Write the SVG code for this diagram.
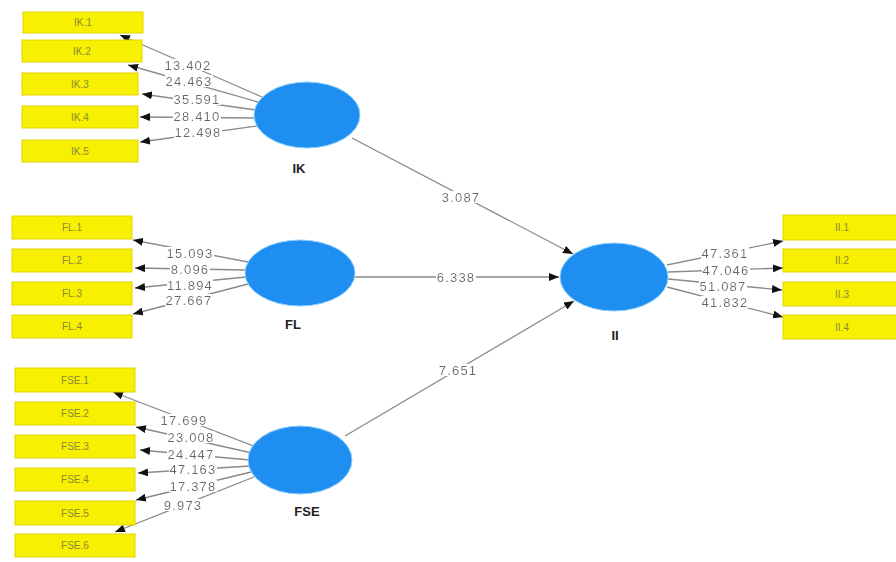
<svg xmlns="http://www.w3.org/2000/svg" width="896" height="562" viewBox="0 0 896 562">
  <style>
    .ind rect { fill: #f7f000; stroke: #e2d400; stroke-width: 1; }
    .ind text { font-family: "Liberation Sans", Arial, sans-serif; font-size: 10px; fill: #8a8a3a; text-anchor: middle; dominant-baseline: central; }
    .lv ellipse { fill: #1e8ff0; stroke: #8fd0ff; stroke-width: 1; }
    .lv text { font-family: "Liberation Sans", Arial, sans-serif; font-size: 13px; font-weight: bold; fill: #222; text-anchor: middle; dominant-baseline: central; }
    .edges line { stroke: #8a8a8a; stroke-width: 1.3; marker-end: url(#arrow); }
    .edges text { font-family: "Liberation Sans", Arial, sans-serif; font-size: 13px; fill: #666666; letter-spacing: 1.2px; text-anchor: middle; dominant-baseline: central; filter: url(#labelbg); }
  </style>
  <defs>
    <marker id="arrow" markerUnits="userSpaceOnUse" markerWidth="10" markerHeight="8" refX="10" refY="4" orient="auto">
      <path d="M0,0 L10,4 L0,8 z" fill="#111"/>
    </marker>
    <!-- white box behind the path coefficient labels -->
    <filter id="labelbg" x="0" y="0.1" width="1" height="0.8">
      <feFlood flood-color="#ffffff"/>
      <feComposite in="SourceGraphic" operator="over"/>
    </filter>
  </defs>
  <rect width="896" height="562" fill="#ffffff"/>

  <!-- connectors (drawn under the boxes) -->
  <g id="connectors" class="edges">
    <!-- IK indicators -->
    <line x1="262" y1="97" x2="120" y2="35"/>
    <line x1="258" y1="102" x2="128" y2="65"/>
    <line x1="256" y1="110" x2="142" y2="94"/>
    <line x1="255" y1="118" x2="140" y2="117"/>
    <line x1="257" y1="126" x2="140" y2="142"/>
    <text x="188" y="65">13.402</text>
    <text x="189" y="81">24.463</text>
    <text x="197" y="99">35.591</text>
    <text x="197" y="116">28.410</text>
    <text x="198" y="132">12.498</text>

    <!-- FL indicators -->
    <line x1="248" y1="262" x2="133" y2="240"/>
    <line x1="246" y1="270" x2="135" y2="268"/>
    <line x1="246" y1="277" x2="135" y2="288"/>
    <line x1="248" y1="284" x2="133" y2="314"/>
    <text x="190" y="253">15.093</text>
    <text x="190" y="269">8.096</text>
    <text x="190" y="285">11.894</text>
    <text x="189" y="300">27.667</text>

    <!-- FSE indicators -->
    <line x1="256" y1="447" x2="113" y2="392"/>
    <line x1="252" y1="453" x2="136" y2="427"/>
    <line x1="250" y1="460" x2="140" y2="450"/>
    <line x1="250" y1="466" x2="138" y2="473"/>
    <line x1="251" y1="472" x2="136" y2="500"/>
    <line x1="254" y1="477" x2="115" y2="532"/>
    <text x="184" y="420">17.699</text>
    <text x="191" y="437">23.008</text>
    <text x="191" y="454">24.447</text>
    <text x="193" y="469">47.163</text>
    <text x="193" y="486">17.378</text>
    <text x="183" y="505">9.973</text>

    <!-- II indicators -->
    <line x1="667" y1="265" x2="783" y2="241"/>
    <line x1="668" y1="272" x2="783" y2="268"/>
    <line x1="668" y1="279" x2="782" y2="290"/>
    <line x1="667" y1="287" x2="783" y2="317"/>
    <text x="725" y="253">47.361</text>
    <text x="726" y="270">47.046</text>
    <text x="723" y="286">51.087</text>
    <text x="725" y="302">41.832</text>

    <!-- structural paths -->
    <line x1="352" y1="138" x2="573" y2="254"/>
    <line x1="355" y1="277" x2="559" y2="277"/>
    <line x1="345" y1="436" x2="574" y2="301"/>
    <text x="461" y="197">3.087</text>
    <text x="456" y="277">6.338</text>
    <text x="458" y="370">7.651</text>
  </g>

  <!-- IK block -->
  <g id="IK.1" class="ind"><rect x="23" y="12" width="120" height="21"/><text x="83" y="22.5">IK.1</text></g>
  <g id="IK.2" class="ind"><rect x="22" y="40" width="120" height="22"/><text x="82" y="51">IK.2</text></g>
  <g id="IK.3" class="ind"><rect x="22" y="73" width="116" height="22"/><text x="80" y="84">IK.3</text></g>
  <g id="IK.4" class="ind"><rect x="22" y="106" width="116" height="22"/><text x="80" y="117">IK.4</text></g>
  <g id="IK.5" class="ind"><rect x="22" y="140" width="116" height="22"/><text x="80" y="151">IK.5</text></g>
  <g id="IK" class="lv"><ellipse cx="307" cy="115" rx="53" ry="33"/><text x="299" y="168">IK</text></g>

  <!-- FL block -->
  <g id="FL.1" class="ind"><rect x="12" y="216" width="120" height="23"/><text x="72" y="227.5">FL.1</text></g>
  <g id="FL.2" class="ind"><rect x="12" y="249" width="120" height="23"/><text x="72" y="260.5">FL.2</text></g>
  <g id="FL.3" class="ind"><rect x="12" y="282" width="120" height="23"/><text x="72" y="293.5">FL.3</text></g>
  <g id="FL.4" class="ind"><rect x="12" y="315" width="120" height="23"/><text x="72" y="326.5">FL.4</text></g>
  <g id="FL" class="lv"><ellipse cx="300" cy="273" rx="55" ry="33"/><text x="293" y="324">FL</text></g>

  <!-- FSE block -->
  <g id="FSE.1" class="ind"><rect x="15" y="368" width="120" height="24"/><text x="75" y="380">FSE.1</text></g>
  <g id="FSE.2" class="ind"><rect x="15" y="402" width="120" height="23"/><text x="75" y="413.5">FSE.2</text></g>
  <g id="FSE.3" class="ind"><rect x="15" y="435" width="120" height="23"/><text x="75" y="446.5">FSE.3</text></g>
  <g id="FSE.4" class="ind"><rect x="15" y="468" width="120" height="23"/><text x="75" y="479.5">FSE.4</text></g>
  <g id="FSE.5" class="ind"><rect x="15" y="501" width="120" height="24"/><text x="75" y="513">FSE.5</text></g>
  <g id="FSE.6" class="ind"><rect x="15" y="534" width="120" height="23"/><text x="75" y="545.5">FSE.6</text></g>
  <g id="FSE" class="lv"><ellipse cx="300" cy="460" rx="52" ry="34"/><text x="307" y="511">FSE</text></g>

  <!-- II block -->
  <g id="II" class="lv"><ellipse cx="614" cy="277" rx="54" ry="34"/><text x="615" y="335">II</text></g>
  <g id="II.1" class="ind"><rect x="783" y="215" width="120" height="25"/><text x="842" y="227.5">II.1</text></g>
  <g id="II.2" class="ind"><rect x="783" y="249" width="120" height="23"/><text x="842" y="260.5">II.2</text></g>
  <g id="II.3" class="ind"><rect x="783" y="282" width="120" height="24"/><text x="842" y="294">II.3</text></g>
  <g id="II.4" class="ind"><rect x="783" y="315" width="120" height="24"/><text x="842" y="327">II.4</text></g>
</svg>
